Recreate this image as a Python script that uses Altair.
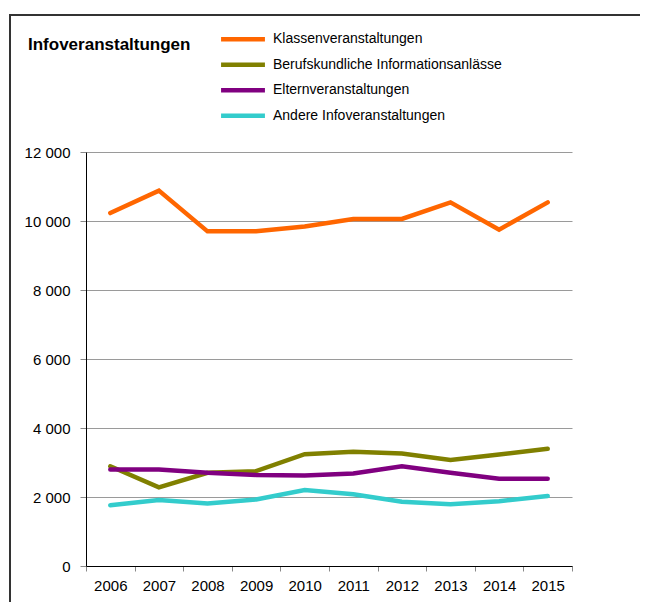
import altair as alt
import pandas as pd

years = ["2006", "2007", "2008", "2009", "2010", "2011", "2012", "2013", "2014", "2015"]
series_names = [
    "Klassenveranstaltungen",
    "Berufskundliche Informationsanlässe",
    "Elternveranstaltungen",
    "Andere Infoveranstaltungen",
]
klassen = [10230, 10880, 9700, 9700, 9840, 10060, 10060, 10540, 9750, 10540]
berufskundlich = [2890, 2280, 2700, 2750, 3240, 3310, 3260, 3070, 3230, 3400]
eltern = [2800, 2800, 2700, 2640, 2620, 2680, 2890, 2700, 2530, 2530]
andere = [1760, 1910, 1810, 1930, 2200, 2080, 1860, 1790, 1880, 2030]
colors = ["#FF6600", "#808000", "#800080", "#33CCCC"]
y_ticks = [0, 2000, 4000, 6000, 8000, 10000, 12000]
chart_title = "Infoveranstaltungen"

FONT = "Liberation Sans"

rows = []
for name, vals in zip(series_names, [klassen, berufskundlich, eltern, andere]):
    for yr, v in zip(years, vals):
        rows.append({"Jahr": yr, "Serie": name, "Wert": v})
df = pd.DataFrame(rows)

lines = alt.Chart(df).mark_line(strokeWidth=4.5, strokeCap="round").encode(
    x=alt.X(
        "Jahr:O",
        sort=years,
        scale=alt.Scale(type="band", paddingInner=0, paddingOuter=0),
        axis=alt.Axis(
            title=None,
            labelAngle=0,
            tickBand="extent",
            grid=False,
            domainColor="#000000",
            domainWidth=1,
            tickColor="#888888",
            tickSize=5,
            labelPadding=7,
            labelFont=FONT,
            labelFontSize=15,
            labelColor="#000000",
        ),
    ),
    y=alt.Y(
        "Wert:Q",
        scale=alt.Scale(domain=[0, 12000], nice=False),
        axis=alt.Axis(
            title=None,
            values=y_ticks,
            format=",d",
            labelExpr="replace(datum.label, ',', ' ')",
            grid=True,
            gridColor="#9a9a9a",
            gridWidth=1,
            domainColor="#000000",
            domainWidth=1,
            tickColor="#888888",
            tickSize=6,
            labelPadding=10,
            labelFont=FONT,
            labelFontSize=15,
            labelColor="#000000",
        ),
    ),
    color=alt.Color(
        "Serie:N",
        sort=series_names,
        scale=alt.Scale(domain=series_names, range=colors),
        legend=alt.Legend(
            orient="none",
            legendX=150,
            legendY=-119.7,
            title=None,
            padding=0,
            symbolType="M-5,0L5,0",
            symbolSize=77,
            symbolStrokeWidth=4.5,
            labelFont=FONT,
            labelFontSize=14,
            labelColor="#000000",
            labelOffset=23,
            labelLimit=400,
            rowPadding=7.5,
        ),
    ),
)

one = alt.Data(values=[{"a": 1}])

title_mark = alt.Chart(one).mark_text(
    text=chart_title,
    font=FONT,
    fontSize=17,
    fontWeight="bold",
    align="left",
    baseline="alphabetic",
    color="#000000",
).encode(x=alt.value(-58), y=alt.value(-102))

frame_left = alt.Chart(one).mark_rule(color="#333333", strokeWidth=2).encode(
    x=alt.value(-76), y=alt.value(-137), y2=alt.value(460)
)
frame_top = alt.Chart(one).mark_rule(color="#333333", strokeWidth=2).encode(
    x=alt.value(-77), x2=alt.value(554), y=alt.value(-137)
)

chart = (
    alt.layer(lines, title_mark, frame_left, frame_top)
    .properties(
        width=486,
        height=414,
        autosize=alt.AutoSizeParams(type="none"),
        padding={"left": 78, "top": 144, "right": 68, "bottom": 36},
        background="#ffffff",
    )
    .configure_view(stroke=None)
)

chart.save("out.html", embed_options={"renderer": "svg", "actions": False})
